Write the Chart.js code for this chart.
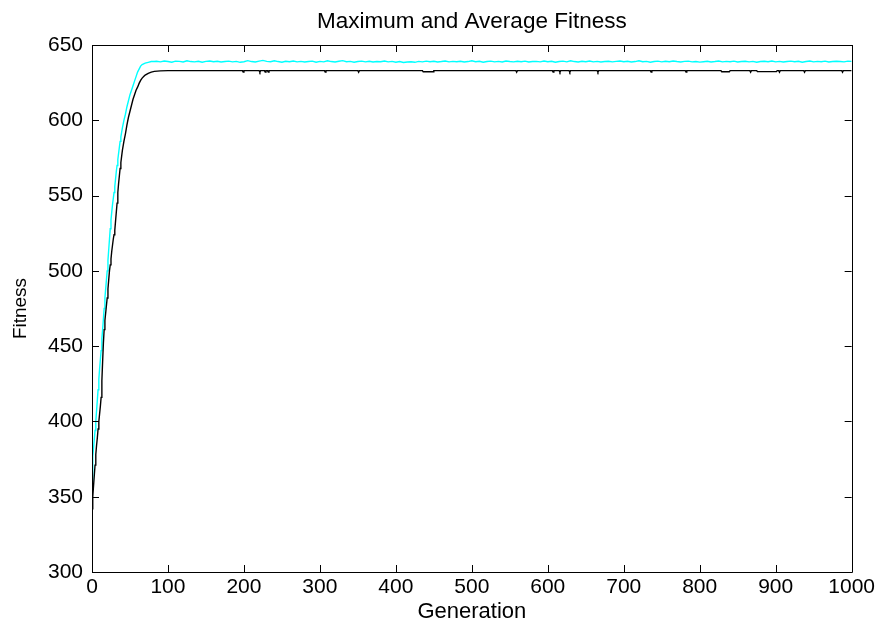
<!DOCTYPE html>
<html><head><meta charset="utf-8">
<script src="https://cdn.jsdelivr.net/npm/chart.js@4/dist/chart.umd.min.js"></script>
<style>html,body{margin:0;padding:0;background:#fff}#wrap{width:878px;height:625px;position:relative}</style>
</head><body><div id="wrap"><canvas id="c"></canvas></div>
<script>
const chartTitle = 'Maximum and Average Fitness';
const xLabel = 'Generation';
const yLabel = 'Fitness';
const xTicks = [0,100,200,300,400,500,600,700,800,900,1000];
const yTicks = [300,350,400,450,500,550,600,650];

// Maximum fitness (cyan) during the rise
const maxRiseGen = [0,1,2,3,4,5,6,7,8,9,10,11,12,13,14,15,16,17,18,19,20,21,22,23,24,25,26,27,28,29,30,31,32,33,34,35,36,37,38,39,40,42,44,46,48,50,52,54,56,58,60,62,64,66,68,70,74,78,82];
const maxRiseVal = [360,377,382,388,394,400,407,414,421,428,435,441,447,455,461,468,475,482,488,494,500,507,514,521,528,534,539,544,548,552,556,561,566,570,574,578,582,586,589,592,595,600,604,609,613,617,620,623,626,629,632,634,636,637,637.5,638,638.5,639,639];
// Maximum fitness plateau, sampled every 5 generations from 85 to 1000
const maxPlateauStart = 85, maxPlateauStep = 5;
const maxPlateauVal = [
639.2,638.8,639.4,639.0,638.6,639.3,639.1,638.7,639.5,639.0,638.8,639.2,638.6,639.1,639.4,638.9,639.2,638.7,639.0,639.3,
638.8,639.1,638.5,638.9,639.6,639.0,638.7,639.3,639.8,639.1,638.9,639.5,639.0,638.6,639.2,638.9,639.4,638.8,639.1,638.7,
639.0,639.3,638.6,639.1,638.8,639.5,639.0,638.7,639.2,639.6,638.9,639.1,638.6,639.0,639.3,638.8,639.2,638.7,639.0,638.9,
639.4,638.8,639.1,638.6,639.0,638.4,638.7,638.9,638.5,639.1,638.8,639.3,638.9,639.2,638.7,639.0,639.4,638.8,639.1,638.9,
639.2,638.7,639.0,639.5,638.9,639.2,638.6,639.0,639.3,638.8,639.1,638.7,639.4,639.0,638.8,639.2,638.9,639.3,638.7,639.0,
639.1,638.8,639.4,638.9,639.2,638.6,639.0,639.3,638.8,639.5,639.0,638.7,639.2,638.9,639.4,638.8,639.1,638.7,639.0,639.2,
638.8,639.1,639.4,638.9,639.2,638.7,639.0,639.5,638.9,639.1,638.6,639.0,639.3,638.8,639.2,638.9,639.4,639.0,638.7,639.1,
639.3,638.8,639.0,638.6,638.9,639.2,638.7,639.0,639.4,638.8,639.1,638.9,639.3,638.7,639.0,639.2,638.8,639.1,638.6,639.0,
639.2,638.9,639.4,638.8,639.1,638.7,639.0,639.3,638.9,639.2,638.6,639.0,639.4,638.8,639.1,638.9,639.3,638.7,639.0,639.2,
639.0,638.8,639.3,639.1];

// Average fitness (black)
const avgGen = [0,1,2,3,4,5,6,7,8,9,10,11,12,13,14,15,16,17,18,19,20,21,22,23,24,25,26,27,28,29,30,31,32,33,34,35,36,37,38,39,40,42,44,46,48,50,52,54,56,58,60,62,64,66,68,70,74,78,82,90,100,
198,199,200,220,221,222,227,228,229,231,232,233,306,307,308,350,351,352,435,436,449,450,558,559,560,606,607,608,615,616,617,628,629,630,665,666,667,735,736,737,781,782,783,828,829,839,840,866,867,868,875,876,901,902,904,905,906,937,938,939,987,988,989,1000];
const avgVal = [342,350,357,364,371,378,384,389,395,400,405,410,416,427,440,452,461,467,472,477,482,488,494,500,504,508,513,517,521,524,527,533,539,545,552,558,563,568,572,576,580,586,591,597,602,606,610,614,617,620,622,624.5,626.5,628,629,630,631.2,632,632.5,632.8,633,
633,632,633,633,632,633,633,632,633,633,632,633,633,632,633,633,632,633,633,632.2,632.2,633,633,632,633,633,632,633,633,632,633,633,632,633,633,632,633,633,632,633,633,632,633,633,632.2,632.2,633,633,632,633,633,632.3,632.3,633,633,632,633,633,632,633,633,632,633,633];

const maxData = maxRiseGen.map((g,i)=>({x:g,y:maxRiseVal[i]}))
  .concat(maxPlateauVal.map((v,i)=>({x:maxPlateauStart+maxPlateauStep*i,y:v})));
const avgData = avgGen.map((g,i)=>({x:g,y:avgVal[i]}));

const FONT = "'Liberation Sans', Arial, sans-serif";

const boxTicks = {
  id:'boxTicks',
  afterDatasetsDraw(chart){
    const {ctx, chartArea:a, scales:{x,y}} = chart;
    const L = 7;
    ctx.save();
    ctx.strokeStyle = '#000';
    ctx.lineWidth = 1;
    ctx.beginPath();
    xTicks.forEach(v=>{
      const px = Math.round(x.getPixelForValue(v))+0.5;
      ctx.moveTo(px,a.bottom); ctx.lineTo(px,a.bottom-L);
      ctx.moveTo(px,a.top); ctx.lineTo(px,a.top+L);
    });
    yTicks.forEach(v=>{
      const py = Math.round(y.getPixelForValue(v))+0.5;
      ctx.moveTo(a.left,py); ctx.lineTo(a.left+L,py);
      ctx.moveTo(a.right,py); ctx.lineTo(a.right-L,py);
    });
    ctx.stroke();
    ctx.beginPath();
    ctx.rect(Math.round(a.left)+0.5, Math.round(a.top)+0.5, Math.round(a.right-a.left), Math.round(a.bottom-a.top));
    ctx.stroke();
    ctx.restore();
  }
};

new Chart(document.getElementById('c'), {
  type:'line',
  data:{datasets:[
    {label:'Average', data:avgData, borderColor:'#000000', borderWidth:1.4, pointRadius:0, tension:0, fill:false},
    {label:'Maximum', data:maxData, borderColor:'#00FFFF', borderWidth:1.4, pointRadius:0, tension:0, fill:false}
  ]},
  options:{
    responsive:true, maintainAspectRatio:false, animation:false,
    layout:{padding:{top:0,left:0,right:26,bottom:0}},
    plugins:{
      legend:{display:false}, tooltip:{enabled:false},
      title:{display:true, fullSize:false, text:chartTitle, color:'#000', font:{family:FONT,size:22.5,weight:'normal'}, padding:{top:8,bottom:10}}
    },
    scales:{
      x:{type:'linear', min:0, max:1000,
        afterBuildTicks(s){ s.ticks = xTicks.map(v=>({value:v})); },
        afterFit(s){ s.height = 53; },
        grid:{display:false, drawTicks:false},
        border:{display:true,color:'#000',width:1},
        ticks:{color:'#000', font:{family:FONT,size:21}, padding:3, maxRotation:0, autoSkip:false, callback:(v)=>String(v)},
        title:{display:true, text:xLabel, color:'#000', font:{family:FONT,size:22}, padding:{top:0,bottom:0}}
      },
      y:{type:'linear', min:300, max:650,
        afterBuildTicks(s){ s.ticks = yTicks.map(v=>({value:v})); },
        afterFit(s){ s.width = 92; },
        grid:{display:false, drawTicks:false},
        border:{display:true,color:'#000',width:1},
        ticks:{color:'#000', font:{family:FONT,size:21}, padding:9, autoSkip:false, callback:(v)=>String(v)},
        title:{display:true, text:yLabel, color:'#000', font:{family:FONT,size:19}, padding:{top:9,bottom:0}}
      }
    }
  },
  plugins:[boxTicks]
});
</script>
</body></html>
